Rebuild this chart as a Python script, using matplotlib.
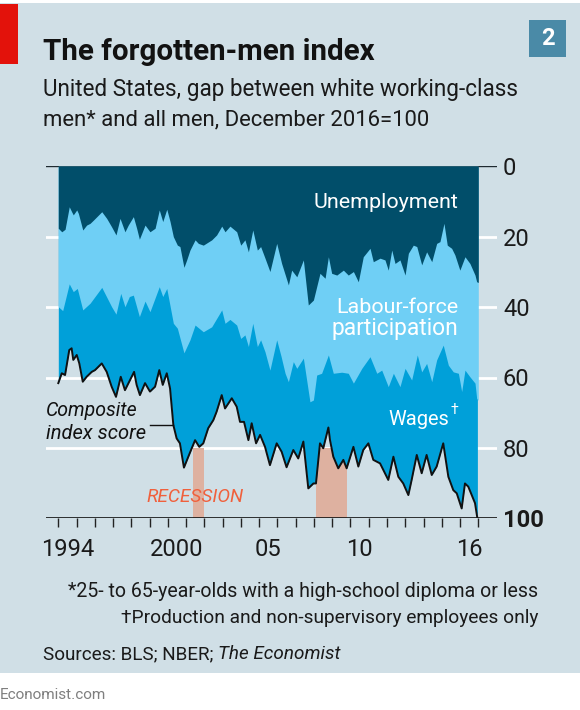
import numpy as np
import matplotlib
matplotlib.use('Agg')
import matplotlib.pyplot as plt
import matplotlib.font_manager as fm
from matplotlib.patches import Rectangle
from matplotlib.lines import Line2D

# ---------------- data ----------------
unemp_years = [1994.0, 1994.19, 1994.37, 1994.60, 1994.73, 1994.82, 1995.01, 1995.10, 1995.34, 1995.55,
               1995.74, 1995.92, 1996.38, 1996.65, 1996.92, 1997.16, 1997.38, 1997.65, 1997.83, 1998.11,
               1998.29, 1998.44, 1998.75, 1999.02, 1999.30, 1999.53, 1999.72, 1999.94, 2000.12, 2000.30,
               2000.52, 2000.66, 2000.88, 2001.03, 2001.21, 2001.49, 2001.67, 2001.94, 2002.40, 2002.67,
               2002.95, 2003.13, 2003.40, 2003.77, 2003.99, 2004.22, 2004.41, 2004.65, 2004.90, 2005.08,
               2005.32, 2005.59, 2005.96, 2006.23, 2006.60, 2006.78, 2007.06, 2007.42, 2007.69, 2007.97,
               2008.33, 2008.61, 2008.79, 2008.97, 2009.25, 2009.61, 2009.88, 2010.16, 2010.43, 2010.70,
               2011.07, 2011.25, 2011.62, 2011.89, 2012.07, 2012.26, 2012.44, 2012.71, 2012.99, 2013.17,
               2013.44, 2013.63, 2013.90, 2014.17, 2014.45, 2014.72, 2014.90, 2015.12, 2015.30, 2015.54,
               2015.72, 2015.99, 2016.27, 2016.54, 2016.82, 2016.91, 2017.0]
unemp_edge = [17.6, 18.6, 17.9, 11.5, 12.9, 13.8, 12.4, 13.4, 18.1, 16.7,
              16.2, 15.3, 12.9, 14.8, 17.2, 19.5, 14.8, 18.6, 16.7, 14.3,
              17.6, 20.7, 16.7, 18.6, 17.6, 12.4, 15.7, 12.2, 15.7, 20.0,
              22.4, 22.8, 28.7, 26.6, 23.8, 20.9, 21.9, 22.4, 20.9, 19.5,
              17.0, 18.6, 17.0, 18.6, 22.4, 20.9, 24.3, 18.1, 23.8, 22.8,
              26.1, 29.9, 21.9, 27.6, 33.7, 29.5, 31.4, 26.6, 39.4, 38.0,
              30.4, 31.8, 25.7, 30.4, 30.9, 29.5, 30.9, 29.9, 32.8, 25.7,
              23.3, 27.1, 26.1, 26.6, 29.5, 23.8, 27.6, 26.6, 30.9, 24.7,
              22.4, 22.8, 28.0, 24.3, 27.1, 21.9, 21.4, 16.2, 22.4, 23.3,
              25.2, 29.5, 25.7, 27.6, 30.9, 32.8, 33.0]

part_years = [1994.0, 1994.24, 1994.60, 1994.82, 1995.04, 1995.34, 1995.74, 1996.38, 1996.92, 1997.16,
              1997.42, 1997.65, 1997.89, 1998.11, 1998.44, 1998.75, 1999.02, 1999.53, 1999.72, 1999.94,
              2000.30, 2000.52, 2000.88, 2001.21, 2001.49, 2001.94, 2002.40, 2002.95, 2003.13, 2003.40,
              2003.77, 2003.99, 2004.22, 2004.41, 2004.65, 2004.90, 2005.08, 2005.32, 2005.59, 2005.96,
              2006.20, 2006.42, 2006.60, 2006.87, 2007.06, 2007.42, 2007.78, 2007.97, 2008.15, 2008.42,
              2008.79, 2009.06, 2009.52, 2009.88, 2010.16, 2010.62, 2011.07, 2011.44, 2011.71, 2012.07,
              2012.35, 2012.71, 2012.99, 2013.35, 2013.66, 2013.90, 2014.17, 2014.45, 2014.72, 2015.08,
              2015.36, 2015.63, 2015.91, 2016.09, 2016.27, 2016.54, 2016.82, 2016.91, 2017.0]
part_edge = [39.9, 41.0, 33.4, 35.6, 34.7, 40.8, 38.9, 34.4, 39.9, 42.0,
             36.1, 39.9, 37.0, 36.6, 42.7, 38.3, 41.3, 34.2, 37.0, 34.7,
             44.6, 46.0, 53.0, 49.3, 45.1, 47.0, 45.6, 40.8, 44.6, 43.5,
             45.1, 48.9, 47.9, 51.2, 44.6, 51.2, 49.3, 52.7, 57.9, 49.3,
             54.0, 58.8, 61.2, 55.5, 57.4, 54.5, 66.9, 66.4, 59.3, 58.8,
             53.6, 58.8, 58.5, 58.8, 61.6, 57.4, 54.1, 58.8, 57.9, 62.6,
             58.8, 62.6, 57.4, 60.7, 53.6, 58.4, 56.0, 61.2, 55.0, 50.8,
             56.5, 58.4, 58.8, 64.0, 57.9, 59.8, 61.6, 65.9, 66.5]

comp_years = [1994.0, 1994.19, 1994.37, 1994.60, 1994.73, 1994.82, 1995.01, 1995.15, 1995.34, 1995.55,
              1995.83, 1996.01, 1996.38, 1996.65, 1996.92, 1997.16, 1997.42, 1997.65, 1997.93, 1998.15,
              1998.29, 1998.47, 1998.75, 1999.02, 1999.30, 1999.53, 1999.72, 1999.94, 2000.12, 2000.30,
              2000.48, 2000.66, 2000.88, 2001.12, 2001.49, 2001.72, 2001.94, 2002.21, 2002.49, 2002.67,
              2002.95, 2003.13, 2003.50, 2003.77, 2003.95, 2004.17, 2004.41, 2004.59, 2004.83, 2005.05,
              2005.32, 2005.59, 2005.96, 2006.23, 2006.50, 2006.87, 2007.14, 2007.42, 2007.69, 2007.97,
              2008.11, 2008.33, 2008.51, 2008.79, 2008.88, 2009.06, 2009.33, 2009.61, 2009.79, 2010.16,
              2010.43, 2010.70, 2010.98, 2011.25, 2011.62, 2012.07, 2012.35, 2012.62, 2012.89, 2013.17,
              2013.35, 2013.63, 2013.90, 2014.17, 2014.45, 2014.72, 2015.08, 2015.36, 2015.63, 2015.82,
              2016.09, 2016.27, 2016.45, 2016.64, 2016.82, 2016.95]
comp_score = [61.6, 58.8, 59.3, 52.2, 51.7, 55.0, 53.6, 56.0, 61.2, 59.8,
              58.4, 57.9, 56.0, 58.4, 62.6, 65.5, 59.8, 63.6, 60.7, 58.4,
              62.1, 65.0, 61.6, 64.0, 62.6, 57.9, 62.1, 58.8, 63.1, 73.5,
              77.3, 78.7, 85.6, 82.5, 77.8, 79.7, 78.7, 74.4, 72.1, 69.7,
              65.0, 68.8, 65.9, 68.3, 72.6, 72.6, 77.8, 73.0, 78.7, 76.3,
              79.7, 84.9, 78.7, 81.1, 85.5, 80.6, 83.0, 78.2, 91.5, 90.1,
              90.1, 78.7, 80.1, 74.2, 77.8, 82.5, 85.8, 83.4, 85.8, 79.7,
              85.3, 80.6, 78.7, 83.4, 84.4, 89.1, 82.5, 88.2, 90.1, 93.4,
              89.1, 82.0, 87.2, 82.0, 87.7, 85.3, 78.7, 88.2, 92.0, 92.9,
              97.2, 90.1, 91.0, 93.4, 95.7, 100.0]

recession_start = [2001.4, 2008.1]
recession_end = [2002.0, 2009.8]

year_ticks = list(range(1994, 2018))
year_label_pos = [1994.5, 2000.5, 2005.5, 2010.5, 2016.5]
year_labels = ['1994', '2000', '05', '10', '16']
y_ticks = [0, 20, 40, 60, 80, 100]
y_labels = ['0', '20', '40', '60', '80', '100']

# ---------------- style ----------------
W, H = 580, 710
BG = '#d0dfe6'
DARK = '#014e6a'
LIGHT = '#6fcff5'
MID = '#00a0d9'
PINK = '#deb1a0'
RED = '#e3120b'

names = {f.name for f in fm.fontManager.ttflist}
FONT = next(n for n in ['Liberation Sans Narrow', 'Roboto', 'DejaVu Sans'] if n in names)
plt.rcParams['font.family'] = [FONT, 'DejaVu Sans']

fig = plt.figure(figsize=(W / 100, H / 100), dpi=100)
fig.patch.set_facecolor('white')
renderer = fig.canvas.get_renderer()

fig.add_artist(Rectangle((0, 1 - 673 / H), 1, (673 - 3) / H, transform=fig.transFigure,
                         facecolor=BG, edgecolor='none', zorder=0))
fig.add_artist(Rectangle((0, 1 - 64 / H), 18 / W, 60 / H, transform=fig.transFigure,
                         facecolor=RED, edgecolor='none', zorder=1))
fig.add_artist(Rectangle((529 / W, 1 - 57 / H), 37 / W, 37 / H, transform=fig.transFigure,
                         facecolor='#4a8aa7', edgecolor='none', zorder=1))


def px_text(x, y, s, size=12, target_w=None, ha='left', va='baseline', **kw):
    t = fig.text(x / W, 1 - y / H, s, ha=ha, va=va, fontsize=size, **kw)
    if target_w:
        w = t.get_window_extent(renderer).width
        t.set_fontsize(size * target_w / w)
    return t


def fit_size(s, target_w, **kw):
    t = fig.text(0, 0, s, fontsize=10, **kw)
    w = t.get_window_extent(renderer).width
    t.remove()
    return 10 * target_w / w


# header
px_text(43, 60, 'The forgotten-men index', 24, target_w=332, fontweight='bold', color='#121212')
px_text(43, 96, 'United States, gap between white working-class', 16, target_w=476, color='#1a1a1a')
px_text(43, 125, 'men* and all men, December 2016=100', 16, target_w=389, color='#1a1a1a')
px_text(547.5, 38.5, '2', 17, ha='center', va='center', fontweight='bold', color='white')

# ---------------- axes ----------------
ax = fig.add_axes([46 / W, 1 - 518.3 / H, (497 - 46) / W, (518.3 - 166.3) / H])
ax.set_xlim(1994 - 12.3 / 18.26, 2017 + 18.7 / 18.26)
ax.set_ylim(100, 0)
ax.patch.set_alpha(0)
for sp in ax.spines.values():
    sp.set_visible(False)

for v in [20, 40, 60, 80]:
    ax.axhline(v, color='white', lw=2.0, zorder=0.6)
ax.axhline(0, color='#1e2a30', lw=1.0, zorder=0.6)
ax.axhline(100, color='#111111', lw=1.2, zorder=7)

for s0, s1 in zip(recession_start, recession_end):
    ax.fill_between([s0, s1], 80, 100, color=PINK, lw=0, zorder=1)

ax.fill_between(comp_years, 0, comp_score, color=MID, lw=0, zorder=2)
ax.fill_between(part_years, 0, part_edge, color=LIGHT, lw=0, zorder=3)
ax.fill_between(unemp_years, 0, unemp_edge, color=DARK, lw=0, zorder=4)
ax.plot(comp_years, comp_score, color='#111111', lw=1.4, zorder=6, solid_joinstyle='round')

tick_fs = fit_size('2000', 50) * 1.06
ax.set_xticks(year_ticks)
ax.set_xticklabels([])
ax.tick_params(axis='x', which='major', length=6.5, width=1.0, color='#222222', direction='out')
ax.set_xticks(year_label_pos, minor=True)
ax.set_xticklabels(year_labels, minor=True)
ax.tick_params(axis='x', which='minor', length=0, pad=14, labelsize=tick_fs, labelcolor='#1a1a1a')

ax.yaxis.tick_right()
ax.set_yticks(y_ticks)
ax.set_yticklabels(y_labels)
ax.tick_params(axis='y', length=0, pad=4.3, labelsize=tick_fs, labelcolor='#1a1a1a')
ax.get_yticklabels()[-1].set_fontweight('bold')

# ---------------- in-chart labels ----------------
px_text(458, 208, 'Unemployment', 14, target_w=146, ha='right', color='white')
px_text(458, 313, 'Labour-force', 14, target_w=123, ha='right', color='white')
px_text(458, 335, 'participation', 14, target_w=128, ha='right', color='white')
wt = px_text(449, 425, 'Wages', 14, target_w=61, ha='right', color='white')
px_text(450.5, 414, '†', wt.get_fontsize() * 0.7, ha='left', color='white')

px_text(46, 416, 'Composite', 14, target_w=92, style='italic', color='#111111')
px_text(46, 439, 'index score', 14, target_w=100, style='italic', color='#111111')
fig.add_artist(Line2D([150 / W, 173 / W], [1 - 425 / H, 1 - 425 / H], transform=fig.transFigure,
                      color='#111111', lw=1.0, zorder=8))
px_text(146.7, 501.7, 'RECESSION', 12, target_w=97, style='italic', color='#f0603c')

# ---------------- footer ----------------
px_text(538, 597, '*25- to 65-year-olds with a high-school diploma or less', 14, target_w=473,
        ha='right', color='#1a1a1a')
px_text(538, 623, '†Production and non-supervisory employees only', 14, target_w=420,
        ha='right', color='#1a1a1a')

src_a = 'Sources: BLS; NBER; '
src_b = 'The Economist'
ta = fig.text(0, 0, src_a, fontsize=10)
tb = fig.text(0, 0, src_b, fontsize=10, style='italic')
wa = ta.get_window_extent(renderer).width
wb = tb.get_window_extent(renderer).width
ta.remove(); tb.remove()
sfs = 10 * 297 / (wa + wb)
px_text(43, 659, src_a, sfs, color='#1a1a1a')
px_text(43 + wa * sfs / 10, 659, src_b, sfs, style='italic', color='#1a1a1a')

px_text(0, 699, 'Economist.com', 12, target_w=106, color='#7f7f7f')

fig.savefig('out.png', dpi=100, facecolor='white')
